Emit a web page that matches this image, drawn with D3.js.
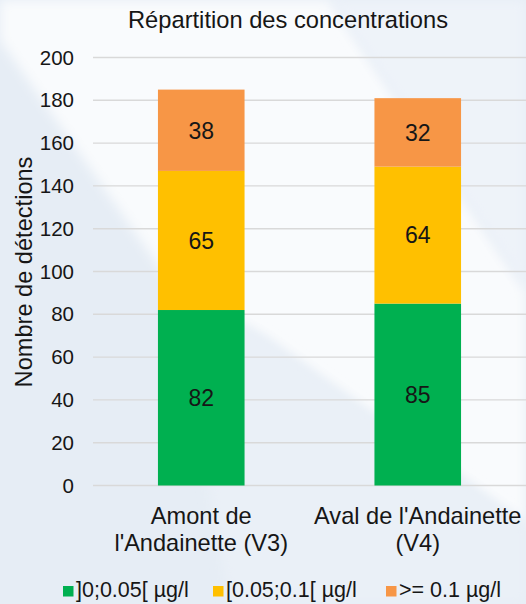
<!DOCTYPE html>
<html>
<head>
<meta charset="utf-8">
<script src="https://cdn.jsdelivr.net/npm/d3@7"></script>
<style>
  html, body { margin: 0; padding: 0; }
  body { width: 526px; height: 604px; overflow: hidden; }
  svg text { font-family: "Liberation Sans", Arial, sans-serif; fill: #161616; }
</style>
</head>
<body>
<svg id="chart" width="526" height="604"></svg>
<script>
// Stations and counts per concentration class
const categories = [["Amont de", "l'Andainette (V3)"], ["Aval de l'Andainette", "(V4)"]];
const seriesNames = ["]0;0.05[ µg/l", "[0.05;0.1[ µg/l", ">= 0.1 µg/l"];
const lowValues = [82, 85];
const midValues = [65, 64];
const highValues = [38, 32];
const yTicks = [0, 20, 40, 60, 80, 100, 120, 140, 160, 180, 200];
const colors = ["#00b050", "#ffc000", "#f79646"];

const W = 526, H = 604;
const margin = { left: 93, right: 0, top: 57.5, bottom: 118.5 };
const svg = d3.select("#chart");

// Soft backdrop: pale blue with a lighter diagonal sweep
const defs = svg.append("defs");
const blur = defs.append("filter").attr("id", "soft").attr("x", "-10%").attr("y", "-10%").attr("width", "120%").attr("height", "120%");
blur.append("feGaussianBlur").attr("stdDeviation", 6);
svg.append("rect").attr("width", W).attr("height", H).attr("fill", "#e6edf5");
svg.append("path").attr("d", "M0,0 L330,0 L526,290 L526,525 L265,338 L172,285 L0,40 Z")
  .attr("fill", "#f9fbfd").attr("filter", "url(#soft)");
svg.append("path").attr("d", "M330,0 L526,0 L526,290 Z").attr("fill", "#eef3f9").attr("filter", "url(#soft)");
svg.append("path").attr("d", "M172,285 L265,338 L526,525 L526,604 L230,604 Z").attr("fill", "#eaf0f7").attr("filter", "url(#soft)");

const stacked = categories.map((c, i) => ({ i, vals: [lowValues[i], midValues[i], highValues[i]] }));

const x = d3.scaleBand().domain(d3.range(categories.length))
  .range([margin.left, W - margin.right]).padding(0);
const y = d3.scaleLinear().domain([0, 200]).range([H - margin.bottom, margin.top]);

// Gridlines
svg.append("g").selectAll("line").data(yTicks).join("line")
  .attr("x1", margin.left).attr("x2", W - margin.right)
  .attr("y1", d => y(d)).attr("y2", d => y(d))
  .attr("stroke", "#d9d9d9").attr("stroke-width", 1.4);

// Y axis tick labels
const yAxis = d3.axisLeft(y).tickValues(yTicks).tickSize(0).tickPadding(0);
const gy = svg.append("g").attr("transform", `translate(${margin.left - 19},0)`).call(yAxis);
gy.select(".domain").remove();
gy.selectAll("text").attr("font-size", 20.5).attr("font-family", null).attr("fill", null);

// Stacked bars with value labels
const barW = x.bandwidth() * 0.4;
stacked.forEach(s => {
  let base = 0;
  s.vals.forEach((v, k) => {
    const cx = x(s.i) + x.bandwidth() / 2;
    svg.append("rect")
      .attr("x", cx - barW / 2).attr("width", barW)
      .attr("y", y(base + v)).attr("height", y(base) - y(base + v))
      .attr("fill", colors[k]);
    svg.append("text")
      .attr("x", cx).attr("y", y(base + v / 2)).attr("dy", "0.36em")
      .attr("text-anchor", "middle").attr("font-size", 23)
      .text(v);
    base += v;
  });
});

// Category labels
categories.forEach((lines, i) => {
  const t = svg.append("text").attr("text-anchor", "middle").attr("font-size", 23.6);
  lines.forEach((ln, j) => {
    t.append("tspan").attr("x", x(i) + x.bandwidth() / 2).attr("y", 524 + j * 26.5).text(ln);
  });
});

// Title
svg.append("text").attr("x", 288).attr("y", 28).attr("text-anchor", "middle")
  .attr("font-size", 23.7).text("Répartition des concentrations");

// Y axis title
svg.append("text").attr("transform", "translate(32,272) rotate(-90)")
  .attr("text-anchor", "middle").attr("font-size", 23.6)
  .text("Nombre de détections");

// Legend
const legendX = [63, 213, 386];
seriesNames.forEach((n, k) => {
  svg.append("rect").attr("x", legendX[k]).attr("y", 586).attr("width", 10.5).attr("height", 10.5).attr("fill", colors[k]);
  svg.append("text").attr("x", legendX[k] + 13).attr("y", 597).attr("font-size", 21.5).text(n);
});
</script>
</body>
</html>
